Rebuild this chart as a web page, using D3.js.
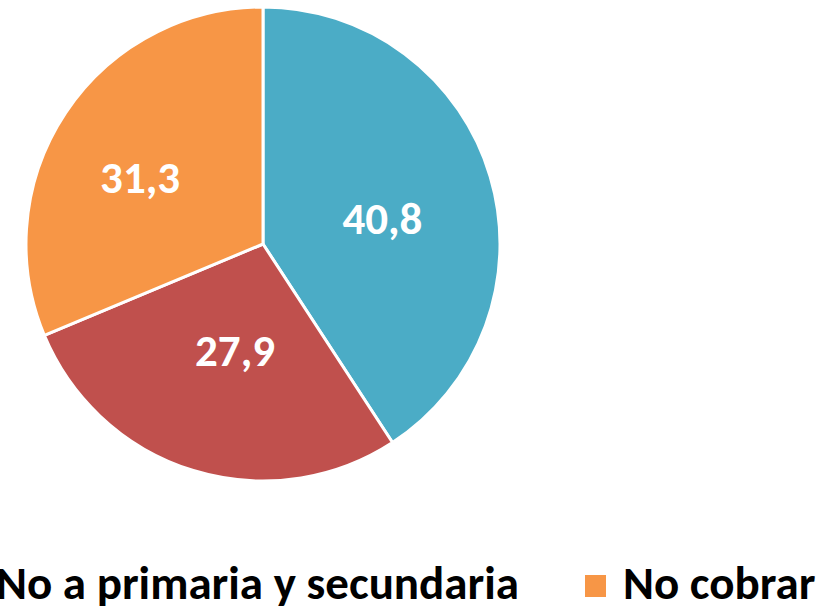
<!DOCTYPE html>
<html>
<head>
<meta charset="utf-8">
<script src="https://cdn.jsdelivr.net/npm/d3@7"></script>
<style>
  html, body { margin: 0; padding: 0; background: #fff; overflow: hidden; }
  svg { display: block; }
  text { font-family: Carlito, Calibri, "Liberation Sans Narrow", "Open Sans", sans-serif; font-weight: bold; }
</style>
</head>
<body>
<svg id="chart" width="840" height="609"></svg>
<script>
const categories = ["", "No a primaria y secundaria", "No cobrar"];
const values = [40.8, 27.9, 31.3];
const valueLabels = ["40,8", "27,9", "31,3"];
const colors = ["#4BACC6", "#C0504D", "#F79646"];

const svg = d3.select("#chart");
const cx = 263, cy = 244, r = 237;

const pie = d3.pie().sort(null).value(d => d)(values);
const arc = d3.arc().innerRadius(0).outerRadius(r);

const g = svg.append("g").attr("transform", `translate(${cx},${cy})`);
g.selectAll("path").data(pie).join("path")
  .attr("d", arc)
  .attr("fill", (d, i) => colors[i])
  .attr("stroke", "#fff")
  .attr("stroke-width", 3)
  .attr("stroke-linejoin", "round");

// label placement (layout only): radius factor and angle nudge in degrees
const labelK = [0.516, 0.459, 0.591];
const labelDA = [4.1, -2.2, -5.0];
g.selectAll("text.lbl").data(pie).join("text")
  .attr("class", "lbl")
  .attr("transform", (d, i) => {
    const a = (d.startAngle + d.endAngle) / 2 + labelDA[i] * Math.PI / 180;
    const rr = r * labelK[i];
    return `translate(${rr * Math.sin(a)},${-rr * Math.cos(a) + 1})`;
  })
  .attr("text-anchor", "middle")
  .attr("dominant-baseline", "central")
  .attr("fill", "#fff")
  .attr("font-size", 45)
  .text((d, i) => valueLabels[i]);

// legend (partially clipped at the edges, as in the reference)
const leg = svg.append("g");
const items = [
  { cat: categories[1], color: colors[1], textX: -4 },
  { cat: categories[2], color: colors[2], textX: 623 }
];
items.forEach(it => {
  leg.append("rect")
    .attr("x", it.textX - 38).attr("y", 575)
    .attr("width", 21).attr("height", 22)
    .attr("fill", it.color);
  leg.append("text")
    .attr("x", it.textX).attr("y", 599)
    .attr("font-size", 47)
    .attr("fill", "#000")
    .text(it.cat);
});
</script>
</body>
</html>
